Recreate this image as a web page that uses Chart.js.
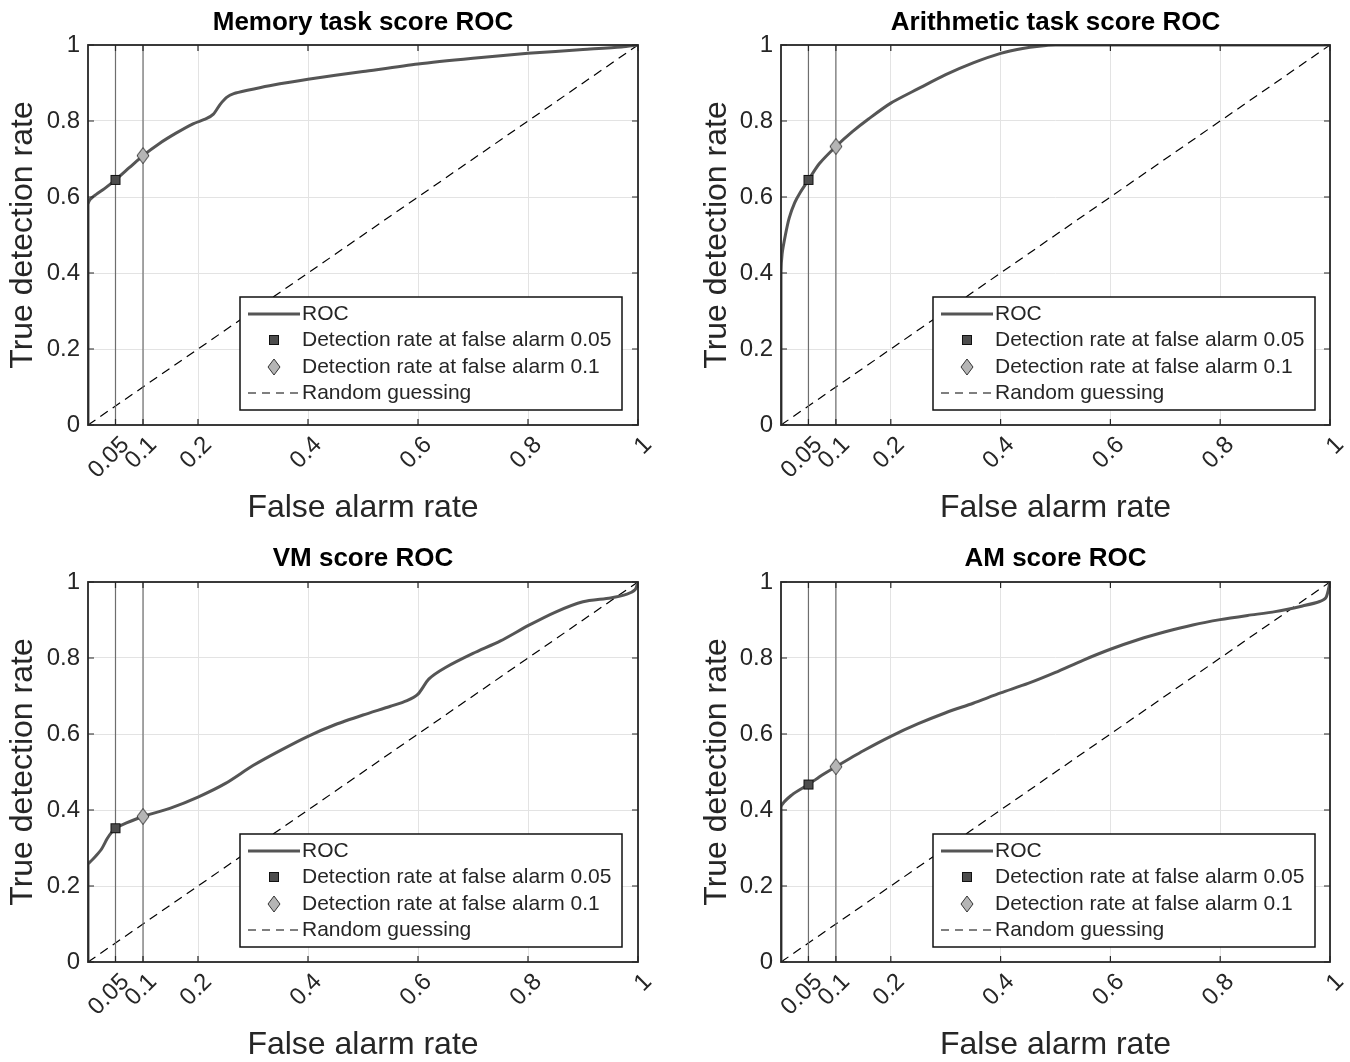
<!DOCTYPE html>
<html>
<head>
<meta charset="utf-8">
<script src="https://cdn.jsdelivr.net/npm/chart.js@4.4.0/dist/chart.umd.min.js"></script>
<style>
  html, body { margin: 0; padding: 0; background: #fff; }
  #wrap { position: relative; width: 1350px; height: 1062px; overflow: hidden; }
  canvas { position: absolute; }
</style>
</head>
<body>
<div id="wrap">
  <canvas id="c0" width="675" height="531" style="left:0;top:0"></canvas>
  <canvas id="c1" width="675" height="531" style="left:675px;top:0"></canvas>
  <canvas id="c2" width="675" height="531" style="left:0;top:531px"></canvas>
  <canvas id="c3" width="675" height="531" style="left:675px;top:531px"></canvas>
</div>
<script>
const titles = ["Memory task score ROC", "Arithmetic task score ROC", "VM score ROC", "AM score ROC"];
const xTicks = [0.05, 0.1, 0.2, 0.4, 0.6, 0.8, 1];
const yTicks = [0, 0.2, 0.4, 0.6, 0.8, 1];
const legendLabels = ["ROC", "Detection rate at false alarm 0.05", "Detection rate at false alarm 0.1", "Random guessing"];
const markerFar = [0.05, 0.1];

// ROC curves (false alarm rate, true detection rate)
const memoryFar = [0, 0, 0.004, 0.015, 0.03, 0.05, 0.075, 0.1, 0.13, 0.16, 0.19, 0.215, 0.228, 0.24, 0.252, 0.265, 0.29, 0.33, 0.4, 0.5, 0.6, 0.7, 0.8, 0.9, 0.97, 1];
const memoryTdr = [0, 0.58, 0.594, 0.607, 0.622, 0.645, 0.677, 0.709, 0.741, 0.768, 0.792, 0.806, 0.818, 0.843, 0.862, 0.872, 0.881, 0.893, 0.91, 0.93, 0.95, 0.965, 0.978, 0.988, 0.995, 1];
const memoryMarks = [0.645, 0.709];

const arithFar = [0, 0, 0.002, 0.008, 0.015, 0.025, 0.035, 0.05, 0.07, 0.1, 0.13, 0.16, 0.2, 0.25, 0.3, 0.35, 0.4, 0.44, 0.47, 0.5, 0.6, 0.8, 1];
const arithTdr = [0, 0.40, 0.45, 0.50, 0.545, 0.585, 0.612, 0.645, 0.688, 0.733, 0.772, 0.806, 0.847, 0.885, 0.922, 0.953, 0.978, 0.991, 0.997, 1, 1, 1, 1];
const arithMarks = [0.645, 0.733];

const vmFar = [0, 0, 0.005, 0.015, 0.025, 0.035, 0.045, 0.05, 0.07, 0.1, 0.15, 0.2, 0.25, 0.3, 0.35, 0.4, 0.45, 0.5, 0.55, 0.58, 0.6, 0.62, 0.65, 0.7, 0.75, 0.8, 0.85, 0.9, 0.95, 0.98, 0.995, 1];
const vmTdr = [0, 0.256, 0.265, 0.28, 0.298, 0.325, 0.345, 0.352, 0.366, 0.383, 0.405, 0.434, 0.47, 0.517, 0.557, 0.594, 0.625, 0.65, 0.673, 0.688, 0.705, 0.745, 0.775, 0.812, 0.845, 0.885, 0.921, 0.948, 0.958, 0.968, 0.98, 1];
const vmMarks = [0.352, 0.383];

const amFar = [0, 0, 0.02, 0.05, 0.075, 0.1, 0.15, 0.2, 0.25, 0.3, 0.35, 0.4, 0.45, 0.5, 0.55, 0.6, 0.65, 0.7, 0.75, 0.8, 0.85, 0.9, 0.95, 0.98, 0.993, 1];
const amTdr = [0, 0.407, 0.44, 0.467, 0.492, 0.514, 0.556, 0.594, 0.627, 0.656, 0.681, 0.708, 0.733, 0.762, 0.794, 0.823, 0.848, 0.869, 0.887, 0.901, 0.912, 0.922, 0.937, 0.948, 0.96, 1];
const amMarks = [0.467, 0.514];

const curves = [
  [memoryFar, memoryTdr, memoryMarks],
  [arithFar, arithTdr, arithMarks],
  [vmFar, vmTdr, vmMarks],
  [amFar, amTdr, amMarks]
];

// panel geometry inside each canvas
const panels = [
  { id: "c0", plotLeft: 88, plotRight: 638, titleH: 45, titlePad: 7, xAxisH: 106, xTitlePad: 7, yTitlePad: 7 },
  { id: "c1", plotLeft: 106, plotRight: 655, titleH: 45, titlePad: 7, xAxisH: 106, xTitlePad: 7, yTitlePad: 26 },
  { id: "c2", plotLeft: 88, plotRight: 638, titleH: 51, titlePad: 12, xAxisH: 100, xTitlePad: 1, yTitlePad: 7 },
  { id: "c3", plotLeft: 106, plotRight: 655, titleH: 51, titlePad: 12, xAxisH: 100, xTitlePad: 1, yTitlePad: 26 }
];

const ink = "#262626";
const rocColor = "#555555";

function markerImage(kind) {
  const c = document.createElement("canvas");
  const ctx = c.getContext("2d");
  if (kind === "square") {
    c.width = 12; c.height = 12;
    ctx.fillStyle = "#4d4d4d";
    ctx.strokeStyle = "#111";
    ctx.lineWidth = 1;
    ctx.fillRect(1, 1, 10, 10);
    ctx.strokeRect(1.5, 1.5, 9, 9);
  } else {
    c.width = 14; c.height = 18;
    ctx.beginPath();
    ctx.moveTo(7, 1);
    ctx.lineTo(13, 9);
    ctx.lineTo(7, 17);
    ctx.lineTo(1, 9);
    ctx.closePath();
    ctx.fillStyle = "#b5b5b5";
    ctx.fill();
    ctx.strokeStyle = "#333";
    ctx.lineWidth = 1;
    ctx.stroke();
  }
  return c;
}
const squareImg = markerImage("square");
const diamondImg = markerImage("diamond");

const frameAndLegend = {
  id: "frameAndLegend",
  afterDatasetsDraw(chart) {
    const { ctx, chartArea: a, scales } = chart;
    ctx.save();
    // inward ticks on all four sides
    ctx.strokeStyle = ink;
    ctx.lineWidth = 1.2;
    ctx.beginPath();
    xTicks.forEach(v => {
      const px = scales.x.getPixelForValue(v);
      ctx.moveTo(px, a.bottom); ctx.lineTo(px, a.bottom - 6);
      ctx.moveTo(px, a.top); ctx.lineTo(px, a.top + 6);
    });
    yTicks.forEach(v => {
      const py = scales.y.getPixelForValue(v);
      ctx.moveTo(a.left, py); ctx.lineTo(a.left + 6, py);
      ctx.moveTo(a.right, py); ctx.lineTo(a.right - 6, py);
    });
    ctx.stroke();
    ctx.lineWidth = 1.8;
    ctx.strokeRect(a.left, a.top, a.right - a.left, a.bottom - a.top);

    // legend box
    const lx = a.left + 152, ly = a.top + 252, lw = 382, lh = 113;
    ctx.fillStyle = "#fff";
    ctx.fillRect(lx, ly, lw, lh);
    ctx.strokeStyle = "#111";
    ctx.lineWidth = 1.5;
    ctx.strokeRect(lx, ly, lw, lh);
    const rows = [17, 43, 70, 96];
    ctx.font = "21px 'Liberation Sans', Arial, sans-serif";
    ctx.fillStyle = ink;
    ctx.textBaseline = "middle";
    legendLabels.forEach((t, i) => {
      ctx.fillText(t, lx + 62, ly + rows[i]);
    });
    ctx.strokeStyle = rocColor;
    ctx.lineWidth = 3;
    ctx.beginPath();
    ctx.moveTo(lx + 8, ly + rows[0]); ctx.lineTo(lx + 60, ly + rows[0]);
    ctx.stroke();
    ctx.drawImage(squareImg, lx + 34 - squareImg.width / 2, ly + rows[1] - squareImg.height / 2);
    ctx.drawImage(diamondImg, lx + 34 - diamondImg.width / 2, ly + rows[2] - diamondImg.height / 2);
    ctx.strokeStyle = "#000";
    ctx.lineWidth = 1.2;
    ctx.setLineDash([8, 6]);
    ctx.beginPath();
    ctx.moveTo(lx + 8, ly + rows[3]); ctx.lineTo(lx + 60, ly + rows[3]);
    ctx.stroke();
    ctx.restore();
  }
};

Chart.defaults.font.family = "'Liberation Sans', Arial, Helvetica, sans-serif";
Chart.defaults.color = ink;

function fmt(v) {
  return String(Math.round(v * 100) / 100);
}

panels.forEach((p, k) => {
  const [far, tdr, marks] = curves[k];
  new Chart(document.getElementById(p.id), {
    type: "scatter",
    data: {
      datasets: [
        { label: legendLabels[2], data: [{ x: markerFar[1], y: marks[1] }], pointStyle: diamondImg, pointRadius: 7 },
        { label: legendLabels[1], data: [{ x: markerFar[0], y: marks[0] }], pointStyle: squareImg, pointRadius: 6 },
        {
          label: legendLabels[0],
          data: far.map((x, i) => ({ x, y: tdr[i] })),
          showLine: true, borderColor: rocColor, borderWidth: 3, pointRadius: 0, tension: 0.25
        },
        {
          data: [{ x: markerFar[0], y: 0 }, { x: markerFar[0], y: 1 }],
          showLine: true, borderColor: "#6e6e6e", borderWidth: 1.2, pointRadius: 0
        },
        {
          data: [{ x: markerFar[1], y: 0 }, { x: markerFar[1], y: 1 }],
          showLine: true, borderColor: "#6e6e6e", borderWidth: 1.2, pointRadius: 0
        },
        {
          label: legendLabels[3],
          data: [{ x: 0, y: 0 }, { x: 1, y: 1 }],
          showLine: true, borderColor: "#000", borderWidth: 1.2, borderDash: [9, 6], pointRadius: 0
        }
      ]
    },
    options: {
      responsive: false,
      animation: false,
      layout: { padding: { left: 0, right: 675 - p.plotRight, top: 0, bottom: 0 } },
      plugins: {
        legend: { display: false },
        tooltip: { enabled: false },
        title: {
          display: true,
          fullSize: false,
          text: titles[k],
          color: "#000",
          font: { size: 26, weight: "bold", lineHeight: 1.2 },
          padding: { top: p.titlePad, bottom: p.titleH - p.titlePad - 31.2 }
        }
      },
      scales: {
        x: {
          type: "linear", min: 0, max: 1,
          afterBuildTicks: s => { s.ticks = xTicks.map(v => ({ value: v })); },
          afterFit: s => { s.height = p.xAxisH; s.paddingLeft = 0; s.paddingRight = 0; },
          grid: { color: "#e3e3e3", drawTicks: false },
          border: { display: false },
          ticks: { autoSkip: false, minRotation: 45, maxRotation: 45, padding: 6, labelOffset: 10, font: { size: 24 }, callback: fmt },
          title: { display: true, text: "False alarm rate", font: { size: 32, lineHeight: 1 }, padding: { top: 0, bottom: p.xTitlePad } }
        },
        y: {
          type: "linear", min: 0, max: 1,
          afterBuildTicks: s => { s.ticks = yTicks.map(v => ({ value: v })); },
          afterFit: s => { s.width = p.plotLeft; },
          grid: { color: "#e3e3e3", drawTicks: false },
          border: { display: false },
          ticks: { padding: 8, font: { size: 24 }, callback: fmt },
          title: { display: true, text: "True detection rate", font: { size: 32, lineHeight: 1 }, padding: { top: p.yTitlePad, bottom: 0 } }
        }
      }
    },
    plugins: [frameAndLegend]
  });
});
</script>
</body>
</html>
